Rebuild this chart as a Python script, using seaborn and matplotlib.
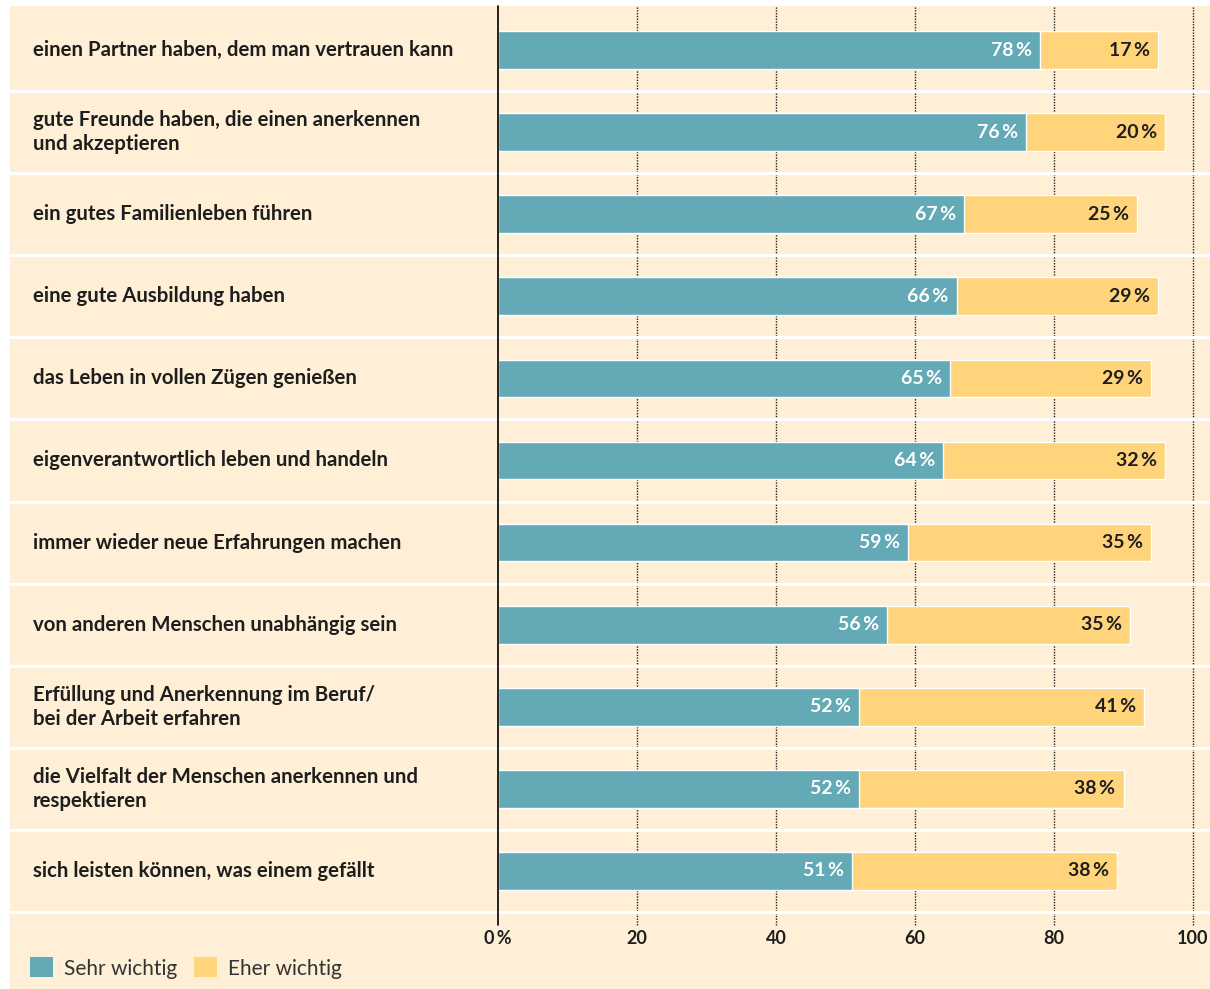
import matplotlib
matplotlib.use("Agg")
import matplotlib.pyplot as plt
import seaborn as sns
import pandas as pd
from matplotlib.patches import Rectangle, Patch

categories = [
    "einen Partner haben, dem man vertrauen kann",
    "gute Freunde haben, die einen anerkennen\nund akzeptieren",
    "ein gutes Familienleben führen",
    "eine gute Ausbildung haben",
    "das Leben in vollen Zügen genießen",
    "eigenverantwortlich leben und handeln",
    "immer wieder neue Erfahrungen machen",
    "von anderen Menschen unabhängig sein",
    "Erfüllung und Anerkennung im Beruf/\nbei der Arbeit erfahren",
    "die Vielfalt der Menschen anerkennen und\nrespektieren",
    "sich leisten können, was einem gefällt",
]
sehr_wichtig = [78, 76, 67, 66, 65, 64, 59, 56, 52, 52, 51]
eher_wichtig = [17, 20, 25, 29, 29, 32, 35, 35, 41, 38, 38]
tick_values = [0, 20, 40, 60, 80, 100]
tick_labels = ["0\u2009%", "20", "40", "60", "80", "100"]
legend_labels = ["Sehr wichtig", "Eher wichtig"]

TEAL = "#63A9B6"
YELLOW = "#FFD47B"
CREAM = "#FEEFD6"
DARK = "#1E1E1E"

sns.set_theme(style="white")
plt.rcParams["font.family"] = ["Lato", "DejaVu Sans"]

W, H = 1210, 989
fig = plt.figure(figsize=(W / 100, H / 100), dpi=100, facecolor="white")
fig.patches.append(Rectangle((10 / W, 0), 1 - 10 / W, (H - 6) / H,
                             transform=fig.transFigure, facecolor=CREAM,
                             edgecolor="none", zorder=-10))

ax_left, ax_right = 10, 1210
ax_top, ax_bot = 9, 912
ax = fig.add_axes([ax_left / W, (H - ax_bot) / H, (ax_right - ax_left) / W, (ax_bot - ax_top) / H])
ax.patch.set_alpha(0)

df = pd.DataFrame({"cat": categories, "sehr": sehr_wichtig, "eher": eher_wichtig})
df["total"] = df["sehr"] + df["eher"]

sns.barplot(data=df, y="cat", x="total", color=YELLOW, orient="h", width=0.46,
            saturation=1, ax=ax, zorder=3)
sns.barplot(data=df, y="cat", x="sehr", color=TEAL, orient="h", width=0.46,
            saturation=1, ax=ax, zorder=4)

px_per_unit = (1193 - 498) / 100
xmin = (ax_left - 498) / px_per_unit
xmax = (ax_right - 498) / px_per_unit
ax.set_xlim(xmin, xmax)
ax.set_ylim(len(categories) - 0.5, -0.5)

for s in ax.spines.values():
    s.set_visible(False)
ax.set_ylabel("")
ax.set_xlabel("")
ax.set_yticks([])
ax.set_xticks(tick_values)
ax.set_xticklabels(tick_labels, fontsize=13, color=DARK, fontweight="bold")
ax.tick_params(axis="x", length=0, pad=13)

# band separators
for i in range(len(categories)):
    ax.axhline(i + 0.5, color="white", lw=2.3, zorder=2, clip_on=False)

ext = -13 / (ax_bot - ax_top)
for v in tick_values[1:]:
    ax.axvline(v, ymin=ext, ymax=1.003, color="#222222", lw=1.0, ls=(0, (1, 1)),
               zorder=1, clip_on=False)
ax.axvline(0, ymin=ext, ymax=1.003, color="black", lw=1.2, zorder=5, clip_on=False)

# category labels
for i, c in enumerate(categories):
    ax.text(xmin + 23 / px_per_unit, i, c, ha="left", va="center",
            fontsize=14.7, fontweight="bold", color=DARK, linespacing=1.22)

# value labels
off = 8 / px_per_unit
for i, (a, b) in enumerate(zip(sehr_wichtig, eher_wichtig)):
    ax.text(a - off, i, f"{a}\u2009%", ha="right", va="center", color="white",
            fontsize=14, fontweight="bold", zorder=6)
    ax.text(a + b - off, i, f"{b}\u2009%", ha="right", va="center", color=DARK,
            fontsize=14, fontweight="bold", zorder=6)

handles = [Patch(facecolor=TEAL, edgecolor="none"), Patch(facecolor=YELLOW, edgecolor="none")]
fig.legend(handles, legend_labels, loc="center left",
           bbox_to_anchor=(11 / W, (H - 968) / H), ncol=2, frameon=False,
           fontsize=15, handlelength=1.1, handleheight=1.1, handletextpad=0.55,
           columnspacing=0.8, labelcolor="#333333")

fig.savefig("out.png", dpi=100, facecolor="white")
